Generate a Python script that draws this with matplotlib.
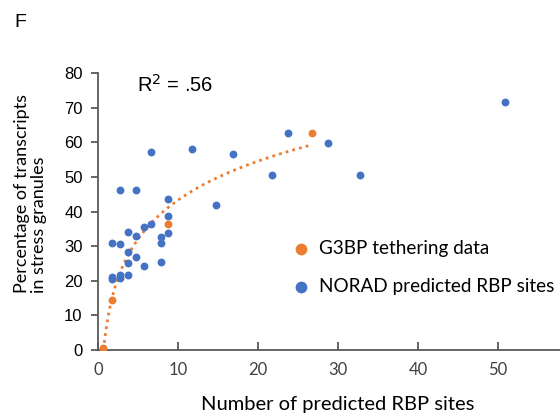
import numpy as np
import matplotlib.pyplot as plt

# NORAD predicted RBP sites (blue)
norad_x = [6.6, 11.7, 16.9, 23.8, 28.8, 21.8, 32.7, 14.7, 2.7, 4.75, 8.8, 8.8, 8.8,
           7.9, 7.9, 7.9, 6.6, 5.7, 4.75, 3.8, 1.7, 2.7, 3.8, 4.75, 3.8, 5.7,
           1.7, 1.7, 2.7, 2.7, 3.8, 50.9]
norad_y = [57.2, 58.0, 56.6, 62.6, 59.9, 50.6, 50.6, 42.0, 46.1, 46.1, 43.5, 38.8, 33.7,
           32.5, 31.0, 25.4, 36.5, 35.6, 32.8, 34.1, 31.0, 30.5, 28.3, 26.9, 25.2, 24.2,
           21.1, 20.4, 21.6, 20.9, 21.6, 71.7]

# G3BP tethering data (orange)
g3bp_x = [0.66, 1.7, 8.8, 26.8]
g3bp_y = [0.5, 14.5, 36.4, 62.7]

blue = '#4472C4'
orange = '#ED7D31'
axis_col = '#595959'

fig = plt.figure(figsize=(5.6, 4.16), dpi=100)
ax = fig.add_axes([0.175, 0.159, 0.825, 0.665])

ax.scatter(norad_x, norad_y, s=32, color=blue, zorder=3, linewidths=0,
           label='NORAD predicted RBP sites')
ax.scatter(g3bp_x, g3bp_y, s=32, color=orange, zorder=4, linewidths=0,
           label='G3BP tethering data')

# logarithmic trendline on the tethering data
a, b = np.polyfit(np.log(g3bp_x), g3bp_y, 1)
tx = np.linspace(0.7, 26.8, 200)
ax.plot(tx, a * np.log(tx) + b, color=orange, linestyle=(0, (1, 1.5)), lw=2, zorder=2)

ax.set_xlim(0, 57.75)
ax.set_ylim(0, 80)
ax.set_xticks(range(0, 60, 10))
ax.set_yticks(range(0, 90, 10))

for s in ['top', 'right']:
    ax.spines[s].set_visible(False)
for s in ['left', 'bottom']:
    ax.spines[s].set_color(axis_col)
    ax.spines[s].set_linewidth(1.3)

ax.tick_params(axis='y', direction='out', length=5, width=1.3, color=axis_col,
               labelsize=12, pad=6)
ax.tick_params(axis='x', direction='in', length=6, width=1.3, color=axis_col,
               labelsize=12, pad=9)
for lab in ax.get_yticklabels():
    lab.set_family('Liberation Sans')
for lab in ax.get_xticklabels():
    lab.set_family('Lato')
    lab.set_color('#404040')

ax.set_xlabel('Number of predicted RBP sites', family='Lato', fontsize=14.5)
ax.xaxis.set_label_coords(30 / 57.75, -0.165)
ax.set_ylabel('Percentage of transcripts\nin stress granules', family='Lato',
              fontsize=13, linespacing=1.1, multialignment='left')
ax.yaxis.set_label_coords(-0.11, 0.567)

fig.text(0.245, 0.779, 'R$^2$ = .56', family='Liberation Sans',
         fontsize=14.5, ha='left', va='baseline')
fig.text(0.025, 0.947, 'F', family='Liberation Sans', fontsize=14, ha='left', va='center')

handles, labels = ax.get_legend_handles_labels()
leg = ax.legend(handles[::-1], labels[::-1], loc='upper left',
                bbox_to_anchor=(0.52, 0.423), bbox_transform=fig.transFigure,
                frameon=False, markerscale=1.5, borderpad=0, borderaxespad=0,
                handlelength=1.0, handletextpad=0.45, labelspacing=1.1,
                prop={'family': 'Lato', 'size': 13.6})

fig.savefig('out.png', dpi=100)
